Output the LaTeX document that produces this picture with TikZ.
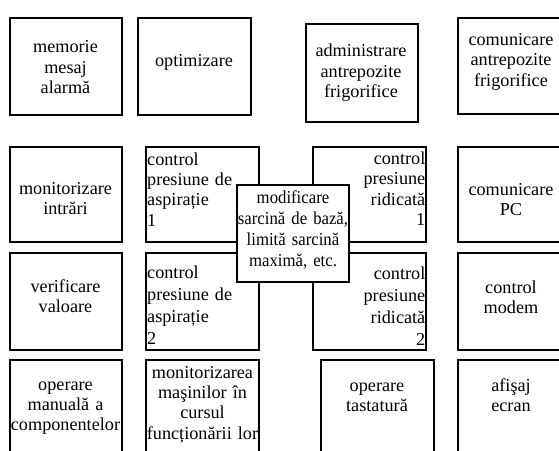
\documentclass[tikz,border=0pt]{standalone}
\usepackage{fontspec}
\setmainfont{Liberation Serif}
\newfontfamily\narrowserif{Liberation Serif}[FakeStretch=0.92]
\begin{document}
\begin{tikzpicture}[x=1pt, y=-1pt,
  box/.style={draw, line width=2pt, inner sep=0pt, outer sep=0pt, fill=white},
  thinbox/.style={box, line width=1.6pt},
  cell/.style={minimum width=112.5pt, minimum height=#1},
  lbl/.style={inner sep=0pt, text width=120pt, align=center, anchor=base,
    font=\fontsize{18.2}{20.4}\selectfont},
  lblleft/.style={lbl, align=left, anchor=base west},
  lblright/.style={lbl, align=right, anchor=base east},
  wide/.style={font=\fontsize{18.2}{22.2}\selectfont},
  lblnarrow/.style={lbl, font=\narrowserif\fontsize{18.2}{21}\selectfont}
]
\useasboundingbox (0,0) rectangle (559,450);
\clip (0,0) rectangle (559,450);

% first row
\node[box, cell=97.3pt] (mem)   at (65.75,66.35) {};
\node[box, cell=97.3pt] (opt)   at (194.5,66.35) {};
\node[box, cell=98pt]   (adm)   at (362,73) {};
\node[box, cell=96.3pt] (comf)  at (514.5,65.85) {};

% second row
\node[box, cell=95.3pt]      (mon)  at (65.75,194.35) {};
\node[thinbox, cell=95.3pt]  (asp1) at (202.5,194.35) {};
\node[thinbox, cell=95.3pt]  (rid1) at (369.5,194.35) {};
\node[box, cell=95.3pt]      (pc)   at (514.5,194.35) {};

% third row
\node[box, cell=97pt]      (ver)  at (65.75,301.5) {};
\node[thinbox, cell=97pt]  (asp2) at (202.5,301.5) {};
\node[thinbox, cell=97pt]  (rid2) at (369.5,301.5) {};
\node[box, cell=97pt]      (mdm)  at (514.5,301.5) {};

% fourth row
\node[box, cell=98pt] (man) at (65.75,409) {};
\node[box, cell=98pt] (msn) at (202.5,409) {};
\node[box, cell=98pt] (tst) at (377.35,409) {};
\node[box, cell=98pt] (scr) at (514.5,409) {};

% central box laid over the four pressure controls
\node[thinbox, minimum width=112pt, minimum height=97pt] (mod) at (293,233.5) {};

% labels
\node[lbl] (tmem) at (65.5,52.7)  {memorie\\mesaj\\alarmă};
\node[lbl] (topt) at (194,66.7)   {optimizare};
\node[lbl] (tadm) at (361,56.7)   {administrare\\antrepozite\\frigorifice};
\node[lbl] (tcomf) at (511,45.5)  {comunicare\\antrepozite\\frigorifice};

\node[lbl] (tmon) at (65.5,194.5) {monitorizare\\intrări};
\node[lblleft] (tasp1) at (147,165) {control\\presiune de\\aspirație\\1};
\node[lblright] (trid1) at (425.5,164.5) {control\\presiune\\ridicată\\1};
\node[lbl] (tpc) at (511,195) {comunicare\\PC};

\node[lbl] (tver) at (65.5,292.3) {verificare\\valoare};
\node[lblleft, wide] (tasp2) at (147,278) {control\\presiune de\\aspirație\\2};
\node[lblright, wide] (trid2) at (425.5,279) {control\\presiune\\ridicată\\2};
\node[lbl] (tmdm) at (511,293) {control\\modem};

\node[lbl] (tman) at (65.5,390) {operare\\manuală a\\componentelor};
\node[lbl] (tmsn) at (202.5,378) {monitorizarea\\maşinilor în\\cursul\\funcționării lor};
\node[lbl] (ttst) at (377,391.5) {operare\\tastatură};
\node[lbl] (tscr) at (511,391.5) {afişaj\\ecran};

\node[lblnarrow] (tmod) at (293,203) {modificare\\sarcină de bază,\\limită sarcină\\maximă, etc.};
\end{tikzpicture}
\end{document}
